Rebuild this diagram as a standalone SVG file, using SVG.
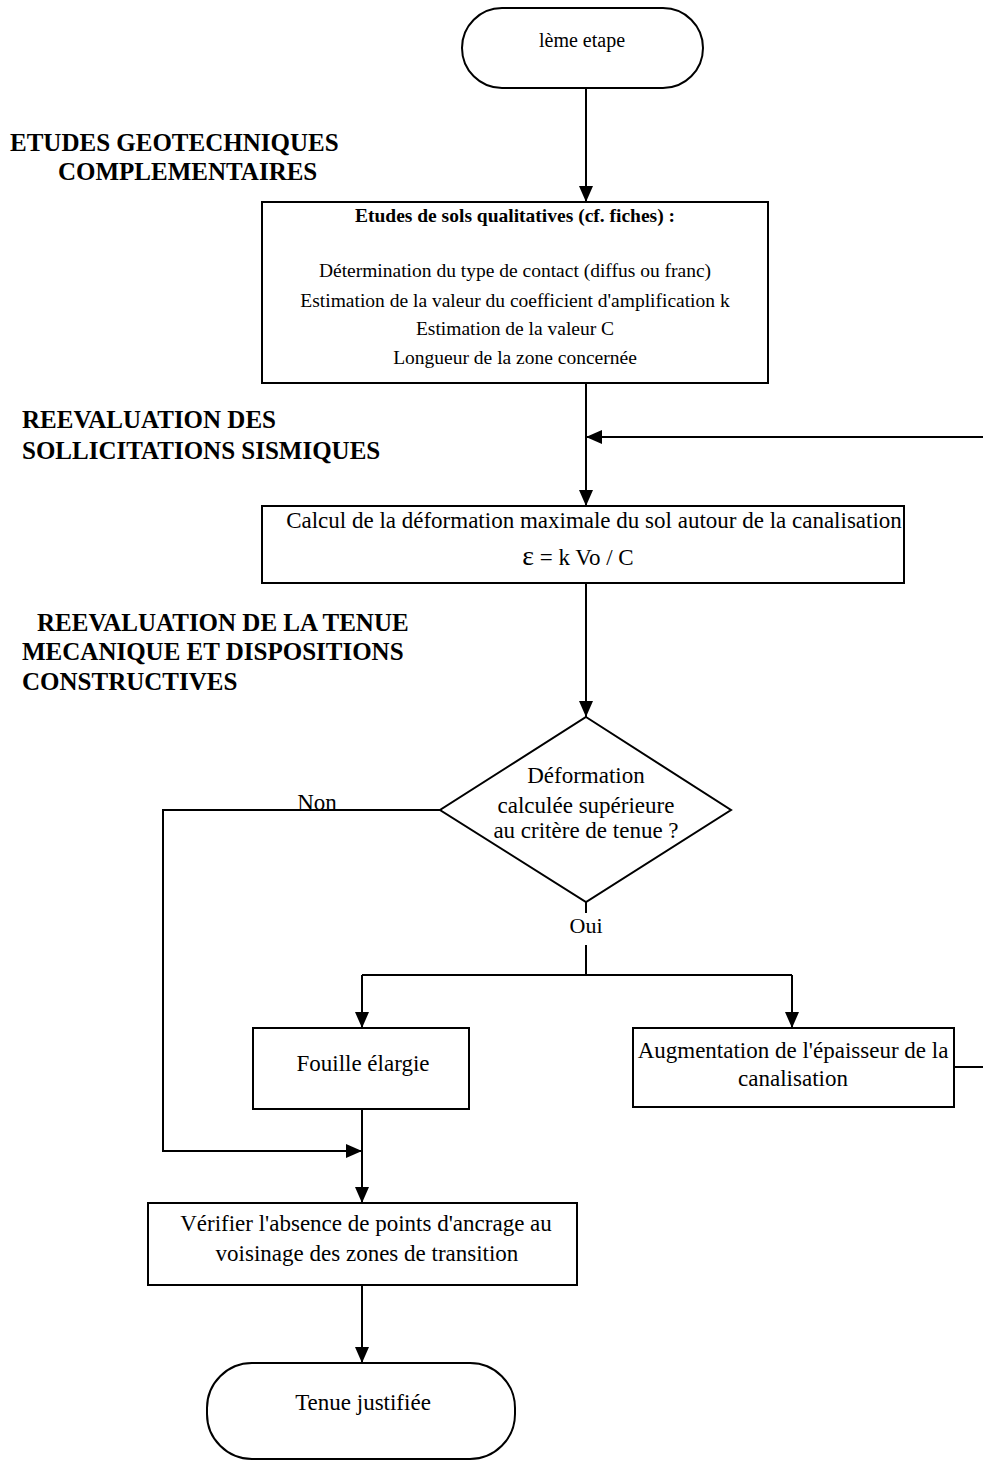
<svg xmlns="http://www.w3.org/2000/svg" width="983" height="1462" viewBox="0 0 983 1462">
<defs>
<marker id="ah" viewBox="0 0 16 14" refX="16" refY="7" markerWidth="16" markerHeight="14" markerUnits="userSpaceOnUse" orient="auto">
<path d="M0,0 L16,7 L0,14 Z" fill="#000"/>
</marker>
<style>
.n{fill:#fff;stroke:#000;stroke-width:2}
.c{fill:none;stroke:#000;stroke-width:2}
.t{font-family:"Liberation Serif","Times New Roman",serif;font-size:23px;fill:#000;text-anchor:middle}
.m{font-size:19.5px}
.b{font-weight:bold}
.h{font-family:"Liberation Serif","Times New Roman",serif;font-size:25px;font-weight:bold;fill:#000}
</style>
</defs>
<rect width="983" height="1462" fill="#fff"/>
<g id="headings">
<text class="h" x="10" y="151">ETUDES GEOTECHNIQUES</text>
<text class="h" x="58" y="180">COMPLEMENTAIRES</text>
<text class="h" x="22" y="428">REEVALUATION DES</text>
<text class="h" x="22" y="459">SOLLICITATIONS SISMIQUES</text>
<text class="h" x="37" y="631">REEVALUATION DE LA TENUE</text>
<text class="h" x="22" y="660">MECANIQUE ET DISPOSITIONS</text>
<text class="h" x="22" y="690">CONSTRUCTIVES</text>
</g>
<g id="connectors">
<path class="c" d="M586,88 V202" marker-end="url(#ah)"/>
<path class="c" d="M586,383 V506" marker-end="url(#ah)"/>
<path class="c" d="M983,437 H586" marker-end="url(#ah)"/>
<path class="c" d="M586,583 V717" marker-end="url(#ah)"/>
<path class="c" d="M440,810 H163 V1151 H362" marker-end="url(#ah)"/>
<text class="t" x="317" y="810">Non</text>
<path class="c" d="M586,902 V913"/>
<text class="t" style="font-size:22px" x="586" y="933">Oui</text>
<path class="c" d="M586,945 V975"/>
<path class="c" d="M362,975 H792"/>
<path class="c" d="M362,975 V1028" marker-end="url(#ah)"/>
<path class="c" d="M792,975 V1028" marker-end="url(#ah)"/>
<path class="c" d="M362,1109 V1203" marker-end="url(#ah)"/>
<path class="c" d="M362,1285 V1363" marker-end="url(#ah)"/>
<path class="c" d="M954,1067 H983"/>
</g>
<g id="start">
<rect class="n" x="462" y="8" width="241" height="80" rx="40"/>
<text class="t" style="font-size:20px" x="582" y="47">lème etape</text>
</g>
<g id="etudes-sols">
<rect class="n" x="262" y="202" width="506" height="181"/>
<text class="t m b" x="515" y="222">Etudes de sols qualitatives (cf. fiches) :</text>
<text class="t m" x="515" y="277">Détermination du type de contact (diffus ou franc)</text>
<text class="t m" x="515" y="307">Estimation de la valeur du coefficient d'amplification k</text>
<text class="t m" x="515" y="335">Estimation de la valeur C</text>
<text class="t m" x="515" y="364">Longueur de la zone concernée</text>
</g>
<g id="calcul">
<rect class="n" x="262" y="506" width="642" height="77"/>
<text class="t" x="594" y="528">Calcul de la déformation maximale du sol autour de la canalisation</text>
<text class="t" x="578" y="565"><tspan style="font-size:28px">ε</tspan> = k Vo / C</text>
</g>
<g id="decision">
<polygon class="n" points="586,717 731,810 586,902 440,810"/>
<text class="t" x="586" y="783">Déformation</text>
<text class="t" x="586" y="813">calculée supérieure</text>
<text class="t" x="586" y="838">au critère de tenue ?</text>
</g>
<g id="fouille">
<rect class="n" x="253" y="1028" width="216" height="81"/>
<text class="t" x="363" y="1071">Fouille élargie</text>
</g>
<g id="augmentation">
<rect class="n" x="633" y="1028" width="321" height="79"/>
<text class="t" x="793" y="1058">Augmentation de l'épaisseur de la</text>
<text class="t" x="793" y="1086">canalisation</text>
</g>
<g id="verifier">
<rect class="n" x="148" y="1203" width="429" height="82"/>
<text class="t" x="366" y="1231">Vérifier l'absence de points d'ancrage au</text>
<text class="t" x="367" y="1261">voisinage des zones de transition</text>
</g>
<g id="end">
<rect class="n" x="207" y="1363" width="308" height="96" rx="45"/>
<text class="t" x="363" y="1410">Tenue justifiée</text>
</g>
</svg>
